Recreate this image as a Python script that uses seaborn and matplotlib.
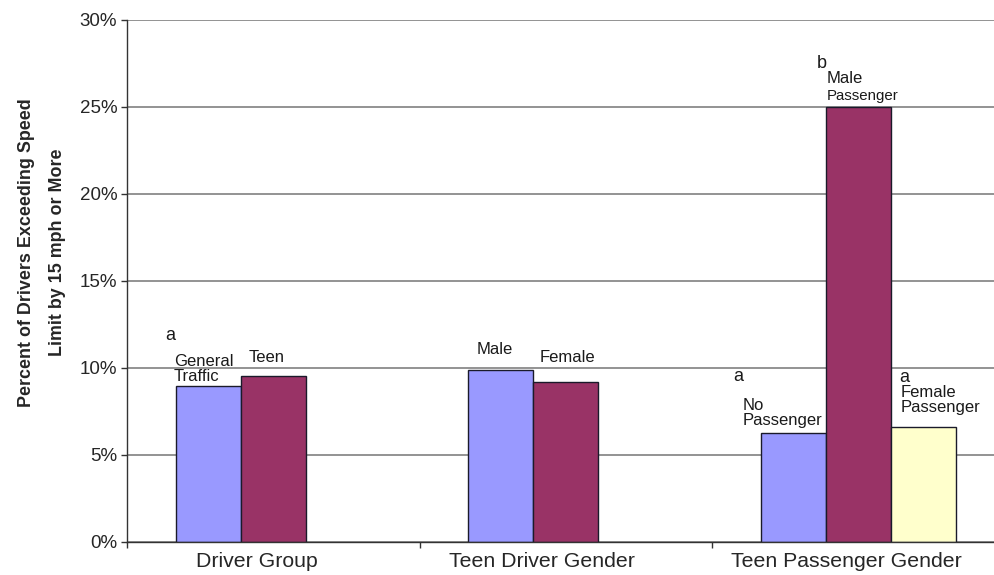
import pandas as pd
import matplotlib.pyplot as plt
import matplotlib.ticker as mticker
from matplotlib.transforms import ScaledTranslation
import seaborn as sns

sns.set_style('white')
plt.rcParams['font.family'] = ['Liberation Sans', 'DejaVu Sans']

# data (percent of drivers)
groups = ['Driver Group', 'Driver Group',
          'Teen Driver Gender', 'Teen Driver Gender',
          'Teen Passenger Gender', 'Teen Passenger Gender', 'Teen Passenger Gender']
series = ['s1', 's2', 's1', 's2', 's1', 's2', 's3']
pct = [8.95, 9.55, 9.9, 9.2, 6.25, 25.0, 6.6]
bar_labels = ['General\nTraffic', 'Teen', 'Male', 'Female',
              'No\nPassenger', 'Male\nPassenger', 'Female\nPassenger']
letters = ['a', '', '', '', 'a', 'b', 'a']
group_order = ['Driver Group', 'Teen Driver Gender', 'Teen Passenger Gender']
series_order = ['s1', 's2', 's3']
colors = ['#9999FF', '#993366', '#FFFFCC']

df = pd.DataFrame({'group': groups, 'series': series, 'pct': pct})

# label offsets from bar top-left corner, in pixels (dx, dy)
label_off = [(-2, 5), (8, 14), (8, 16), (6, 20), (-18, 8), (1, 7), (10, 15)]
letter_off = [(-10, 46), None, None, None, (-27, 52), (-9, 39), (8, 45)]
xlabel_shift = [-16, -24, -12]

fig = plt.figure(figsize=(9.94, 5.75), dpi=100)
ax = fig.add_axes([0.1278, 0.0574, 0.8828, 0.9085])

sns.barplot(data=df, x='group', y='pct', hue='series', order=group_order,
            hue_order=series_order, palette=colors, saturation=1, width=0.667,
            edgecolor='#1a1a2a', linewidth=1, errorbar=None, legend=False, ax=ax)

ax.set_xlim(-0.5, 2.5)
ax.set_ylim(0, 30)
ax.yaxis.set_major_locator(mticker.MultipleLocator(5))
ax.yaxis.set_major_formatter(mticker.PercentFormatter(decimals=0))
ax.yaxis.grid(True, color='#8a8a8a', linewidth=1.3)
ax.set_axisbelow(True)

for s in ['top', 'right']:
    ax.spines[s].set_visible(False)
for s in ['left', 'bottom']:
    ax.spines[s].set_color('#333333')
    ax.spines[s].set_linewidth(1)

ax.tick_params(axis='y', which='major', left=True, length=4, width=1,
               color='#333333', labelsize=13.5, pad=3)
ax.set_xticks([-0.5, 0.5, 1.5], minor=True)
ax.tick_params(axis='x', which='minor', bottom=True, length=4, width=1, color='#333333')
ax.tick_params(axis='x', which='major', length=0, labelsize=15.3, pad=7)
for lab, sh in zip(ax.get_xticklabels(), xlabel_shift):
    lab.set_transform(lab.get_transform() + ScaledTranslation(sh / 100, 0, fig.dpi_scale_trans))

ax.set_xlabel('')
ax.set_ylabel('Percent of Drivers Exceeding Speed\nLimit by 15 mph or More',
              fontsize=12.9, fontweight='bold', linespacing=2.1)
ax.yaxis.set_label_coords(-0.0695, 0.554)

bars = sorted([p for p in ax.patches if p.get_height() > 0], key=lambda p: p.get_x())
px = 0.72
for i, bar in enumerate(bars):
    x0, top = bar.get_x(), bar.get_height()
    dx, dy = label_off[i]
    if i == 5:
        ax.annotate('Passenger', (x0, top), xytext=(dx * px, dy * px),
                    textcoords='offset points', ha='left', va='baseline',
                    fontsize=10.8, color='#1a1a1a')
        ax.annotate('Male', (x0, top), xytext=(dx * px, (dy + 17) * px),
                    textcoords='offset points', ha='left', va='baseline',
                    fontsize=12, color='#1a1a1a')
    else:
        ax.annotate(bar_labels[i], (x0, top), xytext=(dx * px, dy * px),
                    textcoords='offset points', ha='left', va='baseline',
                    fontsize=12, color='#1a1a1a', linespacing=1.0)
    if letters[i]:
        lx, ly = letter_off[i]
        ax.annotate(letters[i], (x0, top), xytext=(lx * px, ly * px),
                    textcoords='offset points', ha='left', va='baseline',
                    fontsize=13, color='#1a1a1a')

fig.savefig('out.png', dpi=100)
